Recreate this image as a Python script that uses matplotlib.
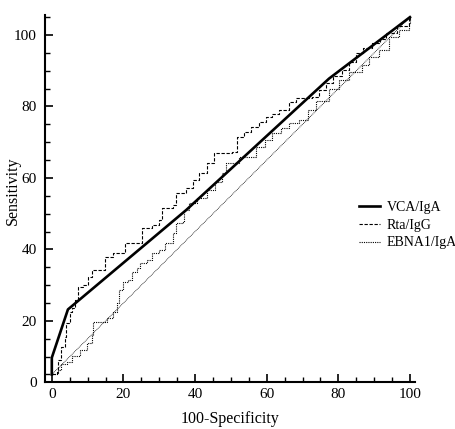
import matplotlib
matplotlib.use("Agg")
import matplotlib.pyplot as plt
from matplotlib.ticker import MultipleLocator

# Curva VCA/IgA (linea gruesa, pocos puntos de corte)
vca_x = [0, 0, 4.5, 37.5, 77.4, 100]
vca_y = [5.0, 9.7, 23.2, 51.0, 87.8, 105.0]

# Curva Rta/IgG (escalonada, discontinua)
rta_x = [0, 1.4, 1.7, 2.7, 3.6, 4.1, 5.0, 5.6, 6.4, 7.2, 8.6, 10.0, 11.1, 13.9,
         14.8, 17.0, 18.4, 20.3, 23.7, 25.3, 27.9, 30.0, 30.9, 33.7, 34.8, 37.6,
         39.3, 41.2, 43.2, 45.4, 50.4, 51.8, 53.8, 55.7, 57.9, 59.9, 61.5, 63.5,
         66.3, 68.2, 72.7, 74.5, 76.6, 78.5, 81.1, 83.0, 85.0, 87.0, 89.4, 91.5,
         93.3, 96.5, 99.7, 100]
rta_y = [5.0, 5.8, 9.0, 12.7, 15.5, 19.4, 22.5, 23.5, 25.9, 29.5, 30.0, 32.4, 34.3,
         34.3, 37.9, 39.0, 39.0, 41.8, 41.8, 46.0, 46.9, 48.3, 51.5, 52.4, 55.8,
         57.2, 59.4, 61.4, 64.2, 67.0, 67.2, 71.5, 72.9, 74.3, 75.7, 77.0, 78.0,
         79.0, 81.2, 82.3, 82.7, 84.5, 86.6, 88.5, 90.2, 92.5, 95.0, 96.5, 97.8,
         99.0, 100.6, 102.5, 104.5, 105.0]

# Curva EBNA1/IgA (escalonada, punteada)
ebna_x = [0, 0.3, 1.7, 2.7, 4.2, 5.6, 7.8, 9.7, 11.1, 11.4, 13.9, 15.3, 17.0, 18.1,
          18.9, 19.8, 21.2, 22.3, 23.7, 24.5, 26.5, 28.1, 30.0, 31.5, 33.7, 34.8,
          36.5, 37.0, 38.4, 40.5, 43.2, 45.5, 47.6, 48.7, 52.4, 54.3, 57.1, 59.5,
          61.6, 64.0, 66.3, 69.1, 71.5, 73.8, 77.4, 80.2, 83.0, 86.6, 88.6, 91.4,
          94.2, 96.9, 99.7, 100]
ebna_y = [5.0, 5.2, 6.3, 7.8, 8.5, 10.2, 11.8, 13.8, 16.1, 19.7, 19.7, 20.8, 22.5,
          25.0, 28.7, 30.9, 31.5, 33.7, 34.8, 36.2, 37.1, 39.0, 39.9, 41.8, 44.6,
          47.4, 47.7, 51.0, 53.0, 54.5, 56.6, 59.0, 61.4, 64.2, 65.9, 65.9, 68.7,
          70.5, 72.6, 74.0, 75.4, 76.2, 79.0, 81.5, 85.0, 87.4, 89.7, 91.6, 93.8,
          95.8, 99.4, 101.4, 103.3, 105.0]

# Diagonal de referencia
diag_x = [0, 100]
diag_y = [5.0, 105.0]

ticks_x = [0, 20, 40, 60, 80, 100]
ticks_y = [20, 40, 60, 80, 100]


def crear_grafica():
    plt.rcParams['font.family'] = ['Liberation Serif', 'DejaVu Serif']
    plt.rcParams['font.size'] = 11

    fig = plt.figure(figsize=(4.56, 4.29), dpi=100)
    ax = fig.add_axes([0.0987, 0.1096, 0.8113, 0.8554])

    ax.plot(diag_x, diag_y, color='black', linewidth=0.6, linestyle=(0, (1, 1)))
    ax.plot(ebna_x, ebna_y, color='black', linewidth=0.8, linestyle=(0, (1, 1)),
            drawstyle='steps-post', label='EBNA1/IgA')
    ax.plot(rta_x, rta_y, color='black', linewidth=0.8, linestyle=(0, (3, 1.5)),
            drawstyle='steps-post', label='Rta/IgG')
    ax.plot(vca_x, vca_y, color='black', linewidth=1.9, label='VCA/IgA')

    ax.set_xlim(-1.9, 101.4)
    ax.set_ylim(2.9, 105.6)

    # el "0" del eje y se dibuja sobre la linea del eje x
    ax.set_yticks([2.9] + ticks_y)
    ax.set_yticklabels(['0'] + [str(t) for t in ticks_y])
    ax.set_xticks(ticks_x)
    ax.xaxis.set_minor_locator(MultipleLocator(5))
    ax.yaxis.set_minor_locator(MultipleLocator(5))

    for lado in ['top', 'right']:
        ax.spines[lado].set_visible(False)
    for lado in ['left', 'bottom']:
        ax.spines[lado].set_linewidth(1.5)

    ax.tick_params(which='major', direction='in', length=6, width=1.2, pad=4)
    ax.tick_params(which='minor', direction='in', length=3.5, width=1.0)
    ax.tick_params(axis='y', which='major', pad=6)

    ax.set_xlabel('100-Specificity', fontsize=11.5)
    ax.xaxis.set_label_coords(0.5, -0.078)
    ax.set_ylabel('Sensitivity', fontsize=11.5)
    ax.yaxis.set_label_coords(-0.064, 0.52)

    manejadores, etiquetas = ax.get_legend_handles_labels()
    orden = [2, 1, 0]
    ax.legend([manejadores[i] for i in orden], [etiquetas[i] for i in orden],
              loc='center left', bbox_to_anchor=(352 / 456, 1 - 225 / 429),
              bbox_transform=fig.transFigure, frameon=False, borderpad=0,
              fontsize=10, handlelength=1.55, handletextpad=0.45, labelspacing=0.35)

    fig.savefig('out.png', dpi=100)


if __name__ == "__main__":
    crear_grafica()
